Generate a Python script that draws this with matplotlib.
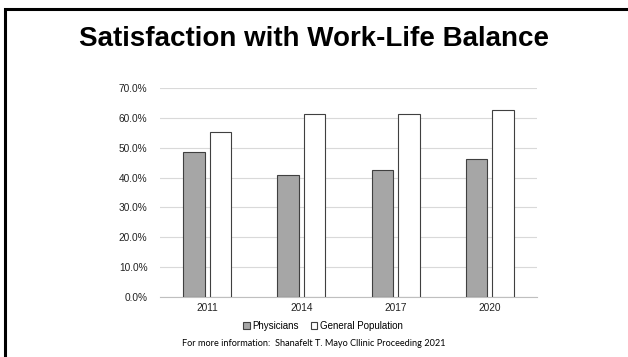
import matplotlib.pyplot as plt
from matplotlib.lines import Line2D
from matplotlib.ticker import PercentFormatter
import numpy as np

years = ['2011', '2014', '2017', '2020']
physicians = [48.5, 40.9, 42.7, 46.1]
general_pop = [55.1, 61.3, 61.2, 62.6]

plt.rcParams['font.family'] = ['Liberation Sans', 'DejaVu Sans']

fig = plt.figure(figsize=(6.28, 3.57), dpi=100)

# slide frame (only left and top edges visible)
fx, fy = 5 / 628, 1 - 9 / 357
fig.add_artist(Line2D([fx, fx, 1.05], [-0.05, fy, fy], transform=fig.transFigure,
                      color='black', linewidth=2.2, solid_joinstyle='miter'))

fig.text(0.5, 1 - 39 / 357, 'Satisfaction with Work-Life Balance',
         ha='center', va='center', fontsize=20, fontweight='bold')

ax = fig.add_axes([160 / 628, 1 - 297 / 357, 377 / 628, 209 / 357])

x = np.arange(len(years))
w = 0.228
off = 0.14
ax.bar(x - off, physicians, w, color='#a6a6a6', edgecolor='#404040',
       linewidth=0.8, label='Physicians', zorder=3)
ax.bar(x + off, general_pop, w, color='white', edgecolor='#404040',
       linewidth=0.8, label='General Population', zorder=3)

ax.set_xlim(-0.5, 3.5)
ax.set_ylim(0, 70)
ax.set_yticks(np.arange(0, 71, 10))
ax.yaxis.set_major_formatter(PercentFormatter(decimals=1))
ax.set_xticks(x)
ax.set_xticklabels(years)
ax.tick_params(axis='both', length=0, labelsize=7.3, colors='#222222', pad=4)
ax.tick_params(axis='y', pad=9)
ax.grid(axis='y', color='#d9d9d9', linewidth=0.8, zorder=0)
for s in ['top', 'right', 'left']:
    ax.spines[s].set_visible(False)
ax.spines['bottom'].set_color('#bfbfbf')

ax.legend(loc='center', bbox_to_anchor=(323 / 628, 1 - 326 / 357),
          bbox_transform=fig.transFigure, ncol=2, frameon=False,
          fontsize=7, handlelength=0.7, handleheight=0.7, handletextpad=0.3,
          columnspacing=1.2)

fig.text(0.5, 1 - 344 / 357,
         'For more information:  Shanafelt T. Mayo Cllinic Proceeding 2021',
         ha='center', va='center', fontsize=6.6, family=['Lato', 'DejaVu Sans'])

fig.savefig('out.png', dpi=100)
